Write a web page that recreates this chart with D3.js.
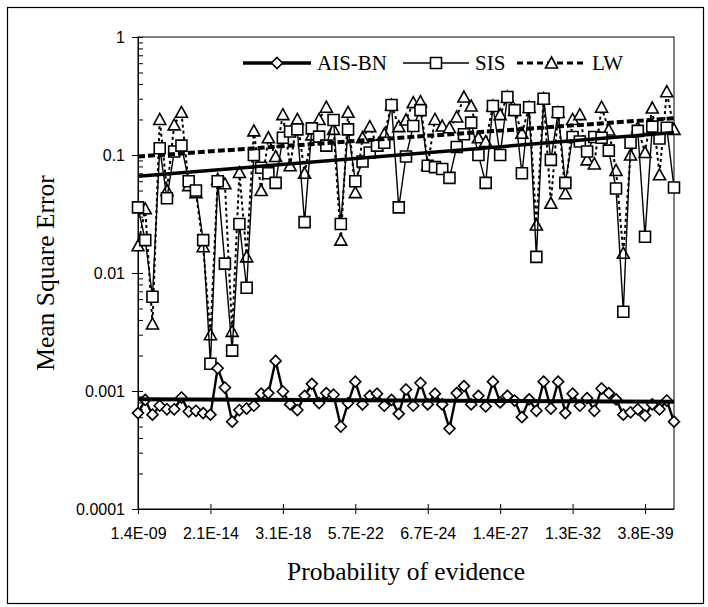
<!DOCTYPE html>
<html>
<head>
<meta charset="utf-8">
<script src="https://cdn.jsdelivr.net/npm/d3@7"></script>
<style>
  body { margin: 0; background: #fff; }
</style>
</head>
<body>
<svg id="canvas" width="708" height="607"></svg>
<script>
// Series values (75 networks)
let aisbn = [0.00065, 0.00084, 0.00063, 0.00075, 0.0007, 0.0007, 0.00088, 0.00067, 0.00068, 0.00065,
    0.00063, 0.00156, 0.00107, 0.00055, 0.00069, 0.00071, 0.00075, 0.00095, 0.00096, 0.0018,
    0.00099, 0.00077, 0.00069, 0.00091, 0.00115, 0.00079, 0.00096, 0.00093, 0.0005, 0.00079,
    0.0012, 0.00077, 0.00091, 0.00095, 0.00075, 0.00084, 0.00064, 0.00103, 0.00075, 0.00117,
    0.00077, 0.00095, 0.00077, 0.00048, 0.00096, 0.0011, 0.00077, 0.00091, 0.00074, 0.0012,
    0.0008, 0.00091, 0.00083, 0.0006, 0.00085, 0.00068, 0.0012, 0.00071, 0.0012, 0.00065,
    0.00095, 0.00075, 0.00087, 0.00068, 0.00105, 0.00096, 0.00085, 0.00063, 0.00066, 0.0007,
    0.00062, 0.00077, 0.0007, 0.00083, 0.00055];

let sis = [0.036, 0.019, 0.0063, 0.114, 0.043, 0.107, 0.12, 0.06, 0.05, 0.019,
    0.0017, 0.06, 0.012, 0.0022, 0.026, 0.0075, 0.1, 0.078, 0.07, 0.058,
    0.14, 0.158, 0.165, 0.027, 0.168, 0.143, 0.12, 0.198, 0.026, 0.165,
    0.06, 0.088, 0.105, 0.12, 0.127, 0.265, 0.036, 0.097, 0.176, 0.24,
    0.081, 0.079, 0.076, 0.064, 0.117, 0.15, 0.188, 0.1, 0.058, 0.26,
    0.1, 0.31, 0.24, 0.07, 0.254, 0.0137, 0.30, 0.091, 0.23, 0.058,
    0.142, 0.13, 0.107, 0.142, 0.14, 0.109, 0.052, 0.0047, 0.127, 0.16,
    0.0203, 0.174, 0.138, 0.17, 0.053];

let lw = [0.017, 0.035, 0.0037, 0.2, 0.05, 0.18, 0.23, 0.055, 0.048, 0.0167,
    0.003, 0.062, 0.057, 0.0032, 0.071, 0.0137, 0.16, 0.05, 0.14, 0.097,
    0.22, 0.081, 0.2, 0.07, 0.148, 0.2, 0.254, 0.165, 0.019, 0.23,
    0.048, 0.14, 0.174, 0.12, 0.15, 0.265, 0.174, 0.198, 0.278, 0.283,
    0.082, 0.2, 0.176, 0.17, 0.21, 0.31, 0.26, 0.14, 0.13, 0.26,
    0.22, 0.31, 0.24, 0.153, 0.254, 0.0255, 0.30, 0.039, 0.23, 0.047,
    0.2, 0.22, 0.091, 0.084, 0.254, 0.163, 0.074, 0.0147, 0.1, 0.17,
    0.105, 0.25, 0.068, 0.344, 0.165];

// Trend lines (start / end values)
let trendAis = [0.00085, 0.00081];
let trendSis = [0.066, 0.155];
let trendLw = [0.097, 0.205];

// Tick labels: one every 10 categories
let xLabels = ['1.4E-09', '2.1E-14', '3.1E-18', '5.7E-22', '6.7E-24', '1.4E-27', '1.3E-32', '3.8E-39'];
let yTicks = [0.0001, 0.001, 0.01, 0.1, 1];
let yTickLabels = ['0.0001', '0.001', '0.01', '0.1', '1'];

let canvas = d3.select('#canvas');
let plotLeft = 138, plotRight = 674, plotTop = 37, plotBottom = 509;
let sans = 'Liberation Sans, Arial, sans-serif';
let serif = 'Liberation Serif, Times New Roman, serif';

let idx = d3.range(sis.length);
let x = d3.scalePoint().domain(idx).range([plotLeft, plotRight]);
let y = d3.scaleLog().domain([0.0001, 1]).range([plotBottom, plotTop]);

// Outer frame
canvas.append('rect')
    .attr('x', 7.5).attr('y', 7.5).attr('width', 696).attr('height', 596)
    .attr('fill', 'none').attr('stroke', '#000').attr('stroke-width', 1.2);

// Plot area border
canvas.append('rect')
    .attr('x', plotLeft).attr('y', plotTop).attr('width', plotRight - plotLeft).attr('height', plotBottom - plotTop)
    .attr('fill', 'none').attr('stroke', '#000').attr('stroke-width', 1);

// Y axis, minor ticks first (inside)
let minors = [];
[0.0001, 0.001, 0.01, 0.1].forEach((d) => {
    for (let k = 2; k <= 9; k++) minors.push(d * k);
});
canvas.append('g')
    .attr('transform', `translate(${plotLeft},0)`)
    .call(d3.axisRight(y).tickValues(minors).tickSize(5).tickFormat(''))
    .call((g) => g.select('.domain').remove());

let yAxis = canvas.append('g')
    .attr('transform', `translate(${plotLeft},0)`)
    .call(d3.axisLeft(y).tickValues(yTicks).tickSize(6).tickPadding(7)
        .tickFormat((d, i) => yTickLabels[i]));
yAxis.selectAll('.tick line').attr('x1', 5);
yAxis.selectAll('text')
    .attr('fill', '#000')
    .style('font-family', sans).style('font-size', '16px');

// X axis
let xAxis = canvas.append('g')
    .attr('transform', `translate(0,${plotBottom})`)
    .call(d3.axisBottom(x).tickValues(d3.range(0, 71, 10)).tickSize(5).tickPadding(14)
        .tickFormat((d) => xLabels[d / 10]));
xAxis.selectAll('.tick line').attr('y1', -5);
xAxis.selectAll('text')
    .attr('fill', '#000')
    .style('font-family', sans).style('font-size', '16px');
xAxis.select('.domain').attr('d', `M${plotLeft},0.5H${plotRight}`);

// Axis titles
canvas.append('text')
    .attr('x', (plotLeft + plotRight) / 2).attr('y', 580)
    .attr('text-anchor', 'middle')
    .attr('fill', '#000')
    .style('font-family', serif).style('font-size', '25.5px')
    .text('Probability of evidence');

canvas.append('text')
    .attr('transform', `translate(54,${(plotTop + plotBottom) / 2}) rotate(-90)`)
    .attr('text-anchor', 'middle')
    .attr('fill', '#000')
    .style('font-family', serif).style('font-size', '25.5px')
    .text('Mean Square Error');

// Marker shapes
let diamond = 'M0,-5.5L5.5,0L0,5.5L-5.5,0Z';
let square = 'M-5.5,-5.5H5.5V5.5H-5.5Z';
let triangle = 'M0,-6L6,5H-6Z';

let line = d3.line().x((d, i) => x(i)).y((d) => y(d));

let drawSeries = (values, shape, width, dash) => {
    canvas.append('path')
        .datum(values)
        .attr('d', line)
        .attr('fill', 'none')
        .attr('stroke', '#000')
        .attr('stroke-width', width)
        .attr('stroke-dasharray', dash);
    canvas.selectAll(null)
        .data(values)
        .enter()
        .append('path')
        .attr('d', shape)
        .attr('transform', (d, i) => `translate(${x(i)},${y(d)})`)
        .attr('fill', '#fff')
        .attr('stroke', '#000')
        .attr('stroke-width', 1.6);
};

drawSeries(lw, triangle, 2, '3,3');
drawSeries(sis, square, 1.4, null);
drawSeries(aisbn, diamond, 2.4, null);

// Trend lines
let drawTrend = (ends, width, dash) => {
    canvas.append('line')
        .attr('x1', plotLeft).attr('x2', plotRight)
        .attr('y1', y(ends[0])).attr('y2', y(ends[1]))
        .attr('stroke', '#000')
        .attr('stroke-width', width)
        .attr('stroke-dasharray', dash);
};
drawTrend(trendAis, 4, null);
drawTrend(trendSis, 3.5, null);
drawTrend(trendLw, 4, '7,3');

// Legend
let legend = [
    { name: 'AIS-BN', x1: 243, x2: 311, shape: diamond, width: 3.5, dash: null },
    { name: 'SIS', x1: 403, x2: 469, shape: square, width: 1.5, dash: null },
    { name: 'LW', x1: 517, x2: 586, shape: triangle, width: 3, dash: '6,4' }
];
let ly = 63;
legend.forEach((d) => {
    canvas.append('line')
        .attr('x1', d.x1).attr('x2', d.x2).attr('y1', ly).attr('y2', ly)
        .attr('stroke', '#000').attr('stroke-width', d.width).attr('stroke-dasharray', d.dash);
    canvas.append('path')
        .attr('d', d.shape)
        .attr('transform', `translate(${(d.x1 + d.x2) / 2},${ly})`)
        .attr('fill', '#fff').attr('stroke', '#000').attr('stroke-width', 1.6);
    canvas.append('text')
        .attr('x', d.x2 + 6).attr('y', ly + 7)
        .attr('fill', '#000')
        .style('font-family', serif).style('font-size', '21px')
        .text(d.name);
});
</script>
</body>
</html>
